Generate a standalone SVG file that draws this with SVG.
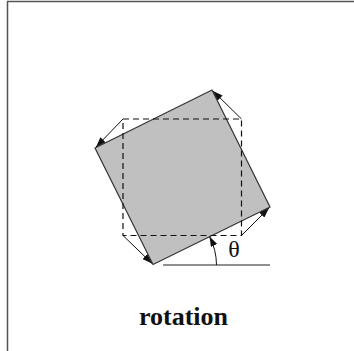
<svg xmlns="http://www.w3.org/2000/svg" width="354" height="351" viewBox="0 0 354 351">
<style>
.frame{fill:none;stroke:#555;stroke-width:1.5}
.rot{fill:#c0c0c0;stroke:#333;stroke-width:1.2;stroke-linejoin:miter}
.orig{fill:none;stroke:#111;stroke-width:1.2;stroke-dasharray:6,4}
.conn{fill:none;stroke:#111;stroke-width:1}
.base{fill:none;stroke:#222;stroke-width:1.2}
.lbl{font-family:"Liberation Serif","Times New Roman",serif;fill:#111}
</style>
<defs>
<marker id="ah" markerWidth="10" markerHeight="7" refX="10" refY="3.5" orient="auto" markerUnits="userSpaceOnUse">
<path d="M0,0 L10,3.5 L0,7 Z" fill="#111"/>
</marker>
</defs>
<g id="frame">
<path class="frame" d="M7.5,351 L7.5,1.5 L354,1.5"/>
</g>
<g id="rotated-square">
<polygon class="rot" points="212,90 270,207 153,264.5 95,148"/>
</g>
<g id="original-square">
<rect class="orig" x="123" y="119" width="118.5" height="116.5"/>
</g>
<g id="connectors">
<line class="conn" x1="123" y1="119" x2="96" y2="147" marker-end="url(#ah)"/>
<line class="conn" x1="241.5" y1="119" x2="213" y2="91" marker-end="url(#ah)"/>
<line class="conn" x1="241.5" y1="235.5" x2="269" y2="208" marker-end="url(#ah)"/>
<line class="conn" x1="123" y1="235.5" x2="152" y2="263.5" marker-end="url(#ah)"/>
<line class="base" x1="163" y1="265" x2="270" y2="265"/>
<path class="conn" d="M216.5,265 A63.5,63.5 0 0 0 209.5,236.5" marker-end="url(#ah)"/>
</g>
<g id="theta">
<text class="lbl" x="234" y="257" font-size="24" text-anchor="middle">θ</text>
</g>
<g id="caption">
<text class="lbl" x="183.5" y="325" font-size="26" font-weight="bold" text-anchor="middle">rotation</text>
</g>
</svg>
